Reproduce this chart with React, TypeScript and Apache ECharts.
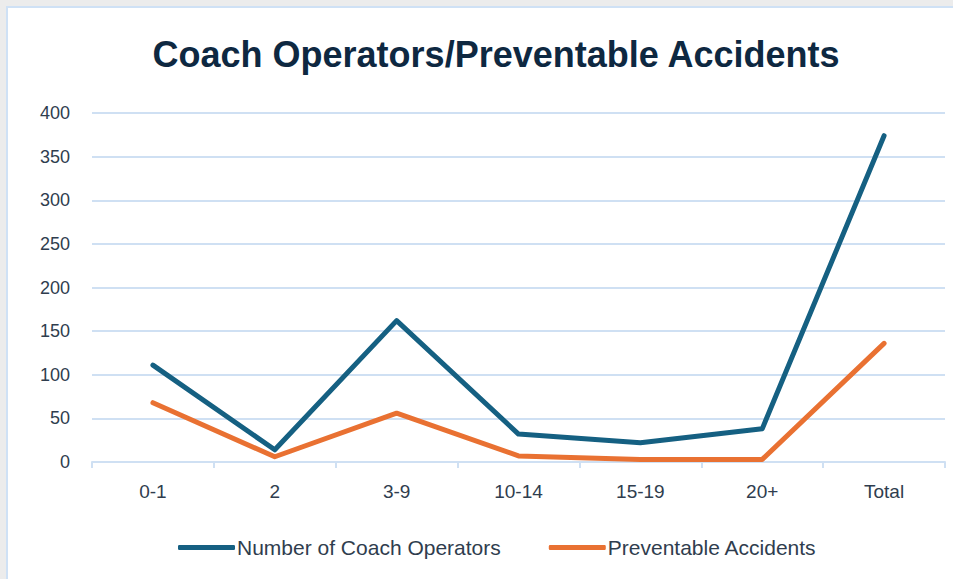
import React, { useEffect, useRef } from "react";
import * as echarts from "echarts";

const titleText = "Coach Operators/Preventable Accidents";
const categories = ["0-1", "2", "3-9", "10-14", "15-19", "20+", "Total"];
const seriesNames = ["Number of Coach Operators", "Preventable Accidents"];
const operators = [111, 14, 162, 32, 22, 38, 374];
const accidents = [68, 6, 56, 7, 3, 3, 136];
const yMin = 0;
const yMax = 400;
const yInterval = 50;

export default function App() {
  const ref = useRef<HTMLDivElement>(null);
  useEffect(() => {
    if (!ref.current) return;
    const chart = echarts.init(ref.current, null, { renderer: "svg" });
    const labelColor = "#2f3d4e";
    const gridColor = "#cfe0f3";
    chart.setOption({
      animation: false,
      backgroundColor: "#ececec",
      graphic: [
        {
          type: "rect",
          z: -10,
          shape: { x: 7, y: 7, width: 960, height: 590 },
          style: { fill: "#ffffff", stroke: "#cfe1f5", lineWidth: 2 },
        },
      ],
      title: {
        text: titleText,
        left: 491,
        top: 31,
        textAlign: "center",
        textStyle: {
          fontFamily: "Liberation Sans",
          fontWeight: "bold",
          fontSize: 36,
          color: "#0e2841",
        },
      },
      legend: {
        left: 173,
        top: 532,
        itemWidth: 57,
        itemHeight: 5,
        itemGap: 48,
        icon: "roundRect",
        textStyle: { fontFamily: "Liberation Sans", fontSize: 21, color: labelColor, padding: [0, 0, 0, -3] },
        data: seriesNames,
      },
      grid: { left: 92, right: 8, top: 113, bottom: 117 },
      xAxis: {
        type: "category",
        data: categories,
        boundaryGap: true,
        axisLine: { lineStyle: { color: gridColor, width: 2 } },
        axisTick: { show: true, length: 6, lineStyle: { color: gridColor, width: 2 } },
        axisLabel: { fontFamily: "Liberation Sans", fontSize: 19, color: labelColor, margin: 20 },
      },
      yAxis: {
        type: "value",
        min: yMin,
        max: yMax,
        interval: yInterval,
        axisLine: { show: false },
        axisTick: { show: false },
        splitLine: { lineStyle: { color: gridColor, width: 2 } },
        axisLabel: { fontFamily: "Liberation Sans", fontSize: 18, color: labelColor, margin: 22 },
      },
      series: [
        {
          name: seriesNames[0],
          type: "line",
          data: operators,
          symbol: "none",
          itemStyle: { color: "#156082" },
          lineStyle: { color: "#156082", width: 5, cap: "round", join: "round" },
        },
        {
          name: seriesNames[1],
          type: "line",
          data: accidents,
          symbol: "none",
          itemStyle: { color: "#e97132" },
          lineStyle: { color: "#e97132", width: 5, cap: "round", join: "round" },
        },
      ],
    });
    return () => chart.dispose();
  }, []);
  return (
    <div
      ref={ref}
      style={{ position: "absolute", left: 0, top: 0, width: 953, height: 579 }}
    />
  );
}
